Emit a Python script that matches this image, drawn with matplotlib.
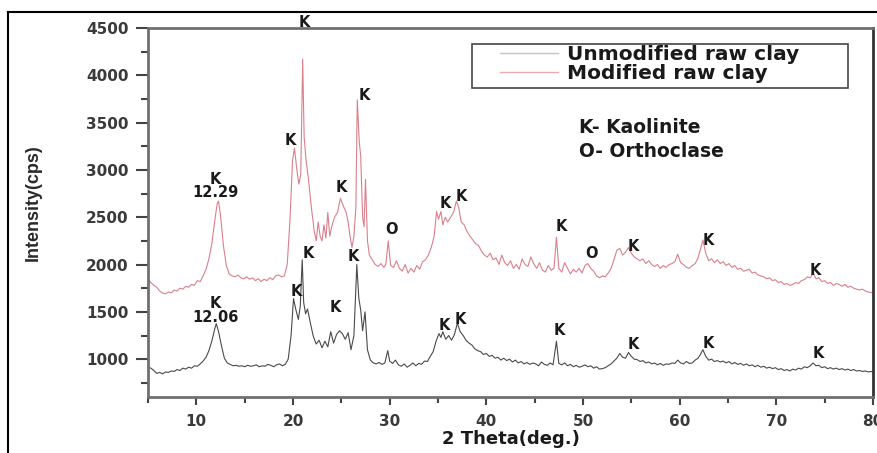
import matplotlib
matplotlib.use("Agg")
import matplotlib.pyplot as plt
from matplotlib.lines import Line2D
from matplotlib.patches import Rectangle
from matplotlib.ticker import MultipleLocator

# XRD patterns, 2-theta (deg) vs intensity (cps)
two_theta_unmod = [
    5.0, 5.3, 5.6, 5.9, 6.2, 6.5, 6.8, 7.1, 7.4, 7.7, 8.0, 8.3, 8.6, 8.9, 9.2, 9.5, 9.8,
    10.1, 10.4, 10.7, 11.0, 11.3, 11.6, 11.9, 12.06, 12.3, 12.6, 12.9, 13.2, 13.5, 13.8,
    14.1, 14.4, 14.7, 15.0, 15.3, 15.6, 15.9, 16.2, 16.5, 16.8, 17.1, 17.4, 17.7, 18.0,
    18.3, 18.6, 18.9, 19.2, 19.5, 19.8, 20.05, 20.3, 20.55, 20.75, 20.95, 21.1, 21.3,
    21.5, 21.8, 22.1, 22.4, 22.7, 23.0, 23.3, 23.6, 23.9, 24.2, 24.5, 24.8, 25.1, 25.4,
    25.7, 26.0, 26.3, 26.6, 26.8, 27.0, 27.2, 27.45, 27.7, 28.0, 28.3, 28.6, 28.9, 29.2,
    29.5, 29.8, 30.0, 30.3, 30.6, 30.9, 31.2, 31.5, 31.8, 32.1, 32.4, 32.7, 33.0, 33.3,
    33.6, 33.9, 34.2, 34.5, 34.8, 35.1, 35.3, 35.5, 35.8, 36.1, 36.4, 36.7, 37.0, 37.3,
    37.6, 37.9, 38.2, 38.5, 38.8, 39.1, 39.4, 39.7, 40.0, 40.3, 40.6, 40.9, 41.2, 41.5,
    41.8, 42.1, 42.4, 42.7, 43.0, 43.3, 43.6, 43.9, 44.2, 44.5, 44.8, 45.1, 45.4, 45.7,
    46.0, 46.3, 46.6, 46.9, 47.25, 47.5, 47.8, 48.1, 48.4, 48.7, 49.0, 49.3, 49.6, 49.9,
    50.2, 50.5, 50.8, 51.1, 51.4, 51.7, 52.0, 52.3, 52.6, 52.9, 53.2, 53.5, 53.8, 54.1,
    54.4, 54.7, 55.0, 55.3, 55.6, 55.9, 56.2, 56.5, 56.8, 57.1, 57.4, 57.7, 58.0, 58.3,
    58.6, 58.9, 59.2, 59.5, 59.8, 60.1, 60.4, 60.7, 61.0, 61.3, 61.6, 61.9, 62.2, 62.4,
    62.7, 63.0, 63.3, 63.6, 63.9, 64.2, 64.5, 64.8, 65.1, 65.4, 65.7, 66.0, 66.3, 66.6,
    66.9, 67.2, 67.5, 67.8, 68.1, 68.4, 68.7, 69.0, 69.3, 69.6, 69.9, 70.2, 70.5, 70.8,
    71.1, 71.4, 71.7, 72.0, 72.3, 72.6, 72.9, 73.2, 73.5, 73.8, 74.1, 74.4, 74.7, 75.0,
    75.3, 75.6, 75.9, 76.2, 76.5, 76.8, 77.1, 77.4, 77.7, 78.0, 78.3, 78.6, 78.9, 79.2,
    79.5, 79.8, 80.0,
]
intensity_unmod = [
    915, 905, 880, 850, 860, 845, 865, 860, 875, 870, 890, 880, 905, 895, 915, 905, 930,
    925, 950, 980, 1020, 1090, 1190, 1320, 1375, 1290, 1140, 1010, 960, 945, 930,
    935, 925, 930, 920, 935, 925, 930, 940, 920, 930, 925, 945, 935, 920,
    940, 950, 930, 945, 1000, 1250, 1640, 1520, 1420, 1560, 2050, 1600, 1480,
    1530, 1380, 1240, 1160, 1200, 1120, 1190, 1130, 1290, 1170, 1260, 1300, 1270, 1210,
    1280, 1100, 1250, 2000, 1650, 1520, 1300, 1500, 1100, 990, 960, 950, 965, 945,
    960, 1090, 980, 955, 990, 940, 925, 950, 915, 935, 960, 930, 955, 945,
    980, 975, 1030, 1080, 1190, 1270, 1230, 1290, 1210, 1250, 1200, 1260, 1380, 1290,
    1250, 1200, 1170, 1150, 1110, 1090, 1080, 1050, 1060, 1030, 1040, 1010, 1020, 990,
    1010, 985, 1000, 970, 990, 960, 975, 950, 965, 945, 960, 950, 930, 970,
    945, 935, 960, 940, 1190, 955, 940, 960, 930, 945, 920, 935, 915, 925,
    940, 920, 930, 905, 920, 895, 900, 910, 930, 950, 980, 1010, 1060, 1020,
    1010, 1070, 1030, 1000, 995, 975, 985, 960, 970, 950, 960, 940, 955, 935,
    950, 945, 960, 955, 990, 960, 950, 975, 955, 960, 990, 1010, 1060, 1100,
    1030, 990, 1000, 975, 985, 970, 980, 960, 975, 950, 965, 945, 955, 935,
    950, 930, 940, 920, 935, 915, 925, 905, 915, 900, 910, 890, 900, 880,
    890, 875, 895, 885, 905, 895, 920, 910, 930, 960, 930, 935, 910, 920,
    900, 910, 895, 905, 890, 900, 885, 895, 880, 890, 875, 880, 870, 875,
    865, 870, 865,
]

two_theta_mod = [
    5.0, 5.3, 5.6, 5.9, 6.2, 6.5, 6.8, 7.1, 7.4, 7.7, 8.0, 8.3, 8.6, 8.9, 9.2, 9.5, 9.8,
    10.1, 10.4, 10.7, 11.0, 11.3, 11.6, 11.9, 12.15, 12.29, 12.5, 12.8, 13.1, 13.4, 13.7,
    14.0, 14.3, 14.6, 14.9, 15.2, 15.5, 15.8, 16.1, 16.4, 16.7, 17.0, 17.3, 17.6, 17.9,
    18.2, 18.5, 18.8, 19.1, 19.4, 19.7, 19.95, 20.15, 20.4, 20.6, 20.8, 21.0, 21.15,
    21.35, 21.6, 21.9, 22.2, 22.4, 22.6, 22.8, 23.0, 23.2, 23.4, 23.6, 23.8, 24.0, 24.3,
    24.6, 24.9, 25.2, 25.5, 25.7, 25.9, 26.1, 26.3, 26.5, 26.65, 26.85, 27.0, 27.2,
    27.35, 27.5, 27.7, 27.9, 28.2, 28.5, 28.8, 29.1, 29.4, 29.6, 29.85, 30.1, 30.4,
    30.7, 31.0, 31.3, 31.6, 31.9, 32.2, 32.5, 32.8, 33.1, 33.4, 33.7, 34.0, 34.3, 34.6,
    34.85, 35.05, 35.3, 35.5, 35.75, 36.0, 36.3, 36.6, 36.9, 37.15, 37.4, 37.7, 38.0,
    38.3, 38.6, 38.9, 39.2, 39.5, 39.8, 40.1, 40.4, 40.7, 41.0, 41.3, 41.6, 41.9, 42.2,
    42.5, 42.8, 43.1, 43.4, 43.7, 44.0, 44.3, 44.6, 44.9, 45.2, 45.5, 45.8, 46.1, 46.4,
    46.7, 47.0, 47.25, 47.5, 47.8, 48.1, 48.4, 48.7, 49.0, 49.3, 49.6, 49.9, 50.2, 50.5,
    50.8, 51.1, 51.4, 51.7, 52.0, 52.3, 52.6, 52.9, 53.2, 53.5, 53.8, 54.1, 54.4, 54.7,
    55.0, 55.3, 55.6, 55.9, 56.2, 56.5, 56.8, 57.1, 57.4, 57.7, 58.0, 58.3, 58.6, 58.9,
    59.2, 59.5, 59.8, 60.1, 60.4, 60.7, 61.0, 61.3, 61.6, 61.9, 62.2, 62.4, 62.7, 63.0,
    63.3, 63.6, 63.9, 64.2, 64.5, 64.8, 65.1, 65.4, 65.7, 66.0, 66.3, 66.6, 66.9, 67.2,
    67.5, 67.8, 68.1, 68.4, 68.7, 69.0, 69.3, 69.6, 69.9, 70.2, 70.5, 70.8, 71.1, 71.4,
    71.7, 72.0, 72.3, 72.6, 72.9, 73.2, 73.5, 73.8, 74.1, 74.4, 74.7, 75.0, 75.3, 75.6,
    75.9, 76.2, 76.5, 76.8, 77.1, 77.4, 77.7, 78.0, 78.3, 78.6, 78.9, 79.2, 79.5, 79.8,
    80.0,
]
intensity_mod = [
    1850, 1810, 1780, 1760, 1720, 1700, 1690, 1710, 1700, 1730, 1720, 1750, 1740, 1770, 1760, 1790, 1780,
    1830, 1820, 1880, 1950, 2060, 2220, 2460, 2640, 2670, 2520, 2200, 1990, 1900, 1880,
    1870, 1890, 1860, 1850, 1870, 1845, 1860, 1830, 1850, 1820, 1845, 1830, 1860, 1840,
    1880, 1890, 1870, 1880, 2000, 2500, 3100, 3230, 3000, 2850, 2950, 4170, 3350,
    3100, 2900, 2600, 2350, 2250, 2450, 2300, 2250, 2420, 2280, 2550, 2300, 2400, 2500,
    2550, 2700, 2620, 2550, 2450, 2300, 2180, 2300, 2600, 3740, 3300, 3150, 2500,
    2400, 2900, 2250, 2100, 2050, 2000, 1980, 2010, 1970, 2000, 2250, 1990, 1970,
    2040, 1960, 1930, 2000, 1910, 1960, 1920, 1990, 1950, 2030, 2050, 2100, 2180, 2300,
    2560, 2480, 2560, 2420, 2500, 2450, 2500, 2550, 2670, 2600, 2450, 2420, 2350,
    2300, 2260, 2220, 2200, 2140, 2100, 2080, 2120, 2050, 2070, 2000, 2100, 2020, 1990,
    2040, 1960, 2000, 1950, 2060, 2000, 1980, 2080, 2010, 1960, 2020, 1940, 1920, 1990,
    1940, 1960, 2290, 1960, 1920, 2020, 1960, 1900, 1950, 1920, 1960, 1910, 1990, 2010,
    1960, 1930, 1880, 1860, 1880, 1870, 1910, 1960, 2050, 2150, 2170, 2100, 2130, 2180,
    2120, 2080, 2060, 2040, 2060, 2010, 2040, 2000, 1980, 2000, 1960, 1990, 1970, 2000,
    2010, 2030, 2110, 2020, 2000, 1970, 1960, 1990, 2010, 2070, 2180, 2260, 2120, 2040,
    2060, 2020, 2050, 2010, 2030, 1990, 2010, 1970, 1990, 1950, 1960, 1930, 1940, 1950,
    1910, 1920, 1890, 1880, 1870, 1850, 1860, 1830, 1840, 1810, 1820, 1790, 1800, 1780,
    1790, 1810, 1800, 1830, 1840, 1870, 1860, 1910, 1850, 1860, 1820, 1830, 1800, 1810,
    1780, 1800, 1790, 1770, 1790, 1760, 1770, 1750, 1740, 1730, 1740, 1720, 1710, 1705,
    1700,
]

# peak labels: (text, x, y)
peaks_mod = [
    ("K\n12.29", 12.0, 2830), ("K", 19.7, 3315), ("K", 21.2, 4560), ("K", 25.0, 2810),
    ("K", 27.4, 3790), ("O", 30.2, 2370), ("K", 35.8, 2640), ("K", 37.4, 2720),
    ("K", 47.8, 2400), ("O", 50.9, 2120), ("K", 55.2, 2190), ("K", 63.0, 2250),
    ("K", 74.0, 1940),
]
peaks_unmod = [
    ("K\n12.06", 12.0, 1515), ("K", 20.3, 1710), ("K", 21.6, 2120), ("K", 24.4, 1550),
    ("K", 26.2, 2080), ("K", 35.7, 1360), ("K", 37.3, 1420), ("K", 47.6, 1300),
    ("K", 55.2, 1150), ("K", 63.0, 1170), ("K", 74.3, 1060),
]

unmod_color = "#4a4a4a"
mod_color = "#d9808c"
text_color = "#1a1a1a"

fig = plt.figure(figsize=(8.78, 4.53), dpi=100)
ax = fig.add_axes([0.1686, 0.1236, 0.8257, 0.8146])

ax.plot(two_theta_unmod, intensity_unmod, color=unmod_color, lw=0.8)
ax.plot(two_theta_mod, intensity_mod, color=mod_color, lw=0.8)

for txt, x, y in peaks_mod + peaks_unmod:
    ax.text(x, y, txt, ha="center", va="center", fontsize=10.5, fontweight="bold",
            color=text_color, linespacing=0.85, family="DejaVu Sans")

ax.text(49.6, 3450, "K- Kaolinite", fontsize=13.5, fontweight="bold", color=text_color,
        va="center", family="DejaVu Sans")
ax.text(49.6, 3190, "O- Orthoclase", fontsize=13.5, fontweight="bold", color=text_color,
        va="center", family="DejaVu Sans")

# legend: entries without frame, box drawn separately
handles = [Line2D([], [], color="#c4c4c4", lw=1.0), Line2D([], [], color="#e8aab3", lw=1.0)]
leg = ax.legend(handles, ["Unmodified raw clay", "Modified raw clay"],
                loc="upper left", bbox_to_anchor=(0.4855, 0.955), frameon=False,
                borderaxespad=0, borderpad=0, handlelength=2.9, labelspacing=0.0,
                handletextpad=0.45,
                prop={"family": "DejaVu Sans", "weight": "bold", "size": 14.5})
for t in leg.get_texts():
    t.set_color(text_color)
ax.add_patch(Rectangle((0.447, 0.837), 0.5186, 0.1192, transform=ax.transAxes,
                       fill=False, edgecolor="#444444", lw=1.2, zorder=5))

ax.set_xlim(5, 80)
ax.set_ylim(600, 4500)
ax.xaxis.set_major_locator(MultipleLocator(10))
ax.xaxis.set_minor_locator(MultipleLocator(5))
ax.yaxis.set_minor_locator(MultipleLocator(250))
ax.set_yticks([1000, 1500, 2000, 2500, 3000, 3500, 4000, 4500])

ax.tick_params(which="both", direction="out", color="#444444", width=1.5)
ax.tick_params(axis="y", which="major", length=9, pad=5)
ax.tick_params(axis="y", which="minor", length=5)
ax.tick_params(axis="x", which="major", length=6, pad=6)
ax.tick_params(axis="x", which="minor", length=4)
ax.tick_params(which="major", labelsize=11, labelcolor="#3a3a3a")
for lab in ax.get_xticklabels() + ax.get_yticklabels():
    lab.set_fontweight("bold")
    lab.set_family("DejaVu Sans")

for side in ["left", "bottom", "top"]:
    ax.spines[side].set_color("#707070")
    ax.spines[side].set_linewidth(2)
ax.spines["right"].set_color("#333333")
ax.spines["right"].set_linewidth(2)

ax.set_xlabel("2 Theta(deg.)", fontsize=13, fontweight="bold", color=text_color,
              family="DejaVu Sans")
ax.xaxis.set_label_coords(0.5, -0.09)
ax.set_ylabel("Intensity(cps)", fontsize=13, fontweight="bold", color="#2a2a2a",
              family="Liberation Sans")
ax.yaxis.set_label_coords(-0.146, 0.528)

# outer frame (left and top edges)
fig.add_artist(Line2D([0.0091, 0.0091], [0.0, 0.9735], color="black", lw=1.5))
fig.add_artist(Line2D([0.0091, 1.0], [0.9735, 0.9735], color="black", lw=1.5))

fig.savefig("out.png", dpi=100)
